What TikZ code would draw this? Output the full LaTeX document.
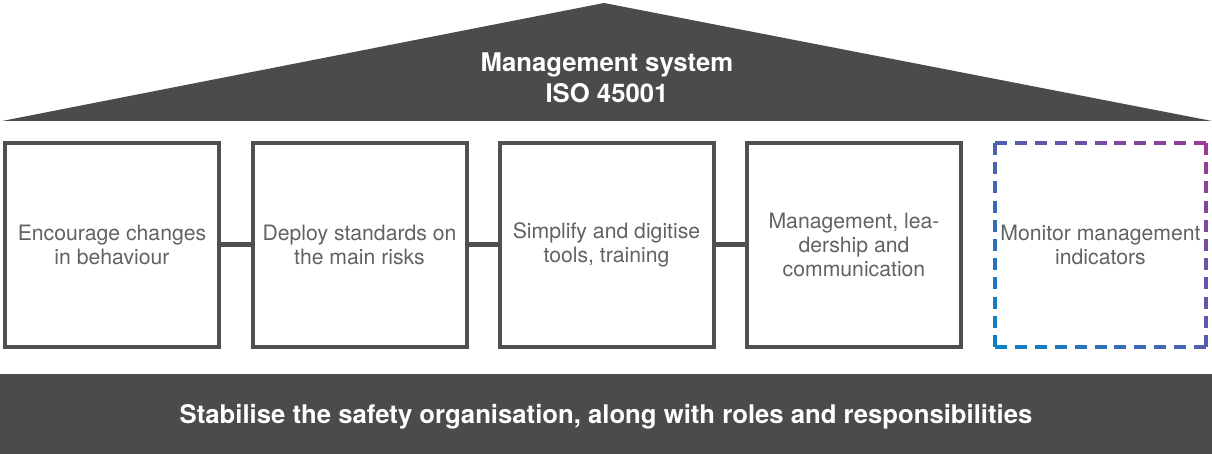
\documentclass[tikz,border=0pt]{standalone}
\usepackage{fontspec}
\setmainfont{TeX Gyre Heros}
\definecolor{roofgray}{HTML}{4B4B4A}
\definecolor{framegray}{HTML}{505050}
\definecolor{txtgray}{HTML}{626262}
\definecolor{dblue}{HTML}{0A82C4}
\definecolor{dpurple}{HTML}{9A3A96}
\tikzset{
  pillar/.style={draw=framegray, line width=4pt, minimum width=214pt, minimum height=204pt,
    text=txtgray, align=center, font=\fontsize{21.2}{24}\selectfont, inner sep=0pt},
  banner/.style={text=white, align=center, font=\bfseries\fontsize{25.7}{31}\selectfont},
  link/.style={draw=framegray, line width=5pt}
}
% one straight side of a dashed frame whose colour runs from blue (lower left) to purple (upper right)
\newcommand\gradside[4]{%
  \foreach \i in {0,...,10}{%
    \pgfmathsetmacro\len{abs(#3-#1)+abs(#4-#2)}%
    \pgfmathsetmacro\fa{\i*(\len-12)/(10*\len)}%
    \pgfmathsetmacro\fb{\fa+12/\len}%
    \pgfmathsetmacro\xa{#1+\fa*(#3-#1)}%
    \pgfmathsetmacro\ya{#2+\fa*(#4-#2)}%
    \pgfmathsetmacro\xb{#1+\fb*(#3-#1)}%
    \pgfmathsetmacro\yb{#2+\fb*(#4-#2)}%
    \pgfmathtruncatemacro\mix{((\xa+\xb)/2-995+347-(\ya+\yb)/2)/4.15}%
    \draw[line width=4pt, draw=dpurple!\mix!dblue] (\xa,\ya) -- (\xb,\yb);%
  }%
}
\begin{document}
\begin{tikzpicture}[x=1pt,y=-1pt]
\useasboundingbox (0,0) rectangle (1212,454);
% roof
\fill[roofgray] (2,121) -- (604,3) -- (1212,121) -- cycle;
\node[banner] (roof) at (607,77.5) {Management system\\ISO 45001};
% pillars
\node[pillar] (p1) at (112,245) {Encourage changes\\in behaviour};
\node[pillar] (p2) at (359.5,245) {Deploy standards on\\the main risks};
\node[pillar] (p3) at (606.5,245) {Simplify and digitise\\tools, training};
\node[pillar] (p4) at (854,245) {Management, lea-\\dership and\\communication};
\node[pillar, draw=none] (p5) at (1100.5,245) {Monitor management\\indicators};
\draw[link] (p1.east) -- (p2.west);
\draw[link] (p2.east) -- (p3.west);
\draw[link] (p3.east) -- (p4.west);
% dashed frame of the last pillar
\gradside{995}{143}{1206}{143}
\gradside{1206}{143}{1206}{347}
\gradside{995}{347}{1206}{347}
\gradside{995}{143}{995}{347}
% foundation
\fill[roofgray] (0,374) rectangle (1212,454);
\node[banner] (base) at (606,417) {Stabilise the safety organisation, along with roles and responsibilities};
\end{tikzpicture}
\end{document}
